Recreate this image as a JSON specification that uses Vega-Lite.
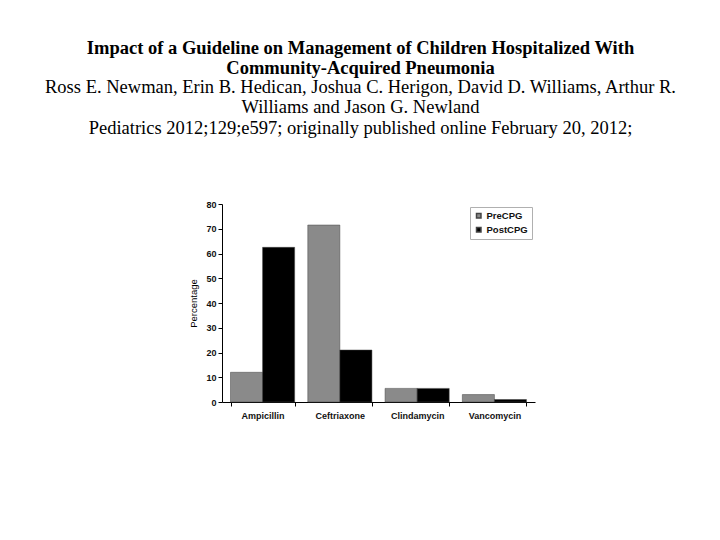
{
  "$schema": "https://vega.github.io/schema/vega-lite/v6.json",
  "autosize": {"type": "none"},
  "width": 313,
  "height": 198,
  "padding": {"left": 222, "top": 204, "right": 185, "bottom": 138},
  "background": "white",
  "title": {
    "text": ["Impact of a Guideline on Management of Children Hospitalized With", "Community-Acquired Pneumonia"],
    "subtitle": ["Ross E. Newman, Erin B. Hedican, Joshua C. Herigon, David D. Williams, Arthur R.", "Williams and Jason G. Newland", "Pediatrics 2012;129;e597; originally published online February 20, 2012;"],
    "font": "Liberation Serif",
    "fontSize": 18.5,
    "fontWeight": "bold",
    "color": "black",
    "lineHeight": 20,
    "subtitleFont": "Liberation Serif",
    "subtitleFontSize": 18.5,
    "subtitleColor": "black",
    "subtitleLineHeight": 20.5,
    "subtitlePadding": 0,
    "anchor": "middle",
    "dx": -18,
    "offset": 63
  },
  "data": {
    "values": [
      {"drug": "Ampicillin", "period": "PreCPG", "pct": 12},
      {"drug": "Ampicillin", "period": "PostCPG", "pct": 62.5},
      {"drug": "Ceftriaxone", "period": "PreCPG", "pct": 71.5},
      {"drug": "Ceftriaxone", "period": "PostCPG", "pct": 21},
      {"drug": "Clindamycin", "period": "PreCPG", "pct": 5.5},
      {"drug": "Clindamycin", "period": "PostCPG", "pct": 5.5},
      {"drug": "Vancomycin", "period": "PreCPG", "pct": 3},
      {"drug": "Vancomycin", "period": "PostCPG", "pct": 1}
    ]
  },
  "mark": {"type": "bar", "stroke": "#444444", "strokeWidth": 0.5},
  "encoding": {
    "x": {
      "field": "drug", "type": "nominal", "title": null,
      "scale": {"paddingInner": 0.17, "paddingOuter": 0.11},
      "axis": {"labelAngle": 0, "labelFont": "Arial", "labelFontSize": 9, "labelFontWeight": "bold", "labelColor": "#111111", "domainColor": "black", "tickColor": "black", "tickBand": "extent", "tickSize": 4, "labelPadding": 5}
    },
    "xOffset": {"field": "period", "type": "nominal", "sort": ["PreCPG", "PostCPG"], "scale": {"paddingInner": 0}},
    "y": {
      "field": "pct", "type": "quantitative", "title": "Percentage",
      "scale": {"domain": [0, 80]},
      "axis": {"values": [0, 10, 20, 30, 40, 50, 60, 70, 80], "grid": false, "labelFont": "Arial", "labelFontSize": 9, "labelFontWeight": "bold", "labelColor": "#111111", "domainColor": "black", "tickColor": "black", "tickSize": 4, "titleFont": "Arial", "titleFontSize": 9.5, "titleFontWeight": "normal", "titleColor": "black", "titlePadding": 7}
    },
    "color": {
      "field": "period", "type": "nominal", "sort": ["PreCPG", "PostCPG"],
      "scale": {"domain": ["PreCPG", "PostCPG"], "range": ["#8a8a8a", "#000000"]},
      "legend": {"title": null, "orient": "top-right", "offset": 3, "strokeColor": "#b0b0b0", "padding": 4, "symbolType": "square", "symbolSize": 20, "labelFont": "Arial", "labelFontSize": 9.5, "labelFontWeight": "bold", "labelColor": "#111111", "rowPadding": 3, "labelOffset": 3}
    }
  },
  "config": {"view": {"stroke": null}}
}
